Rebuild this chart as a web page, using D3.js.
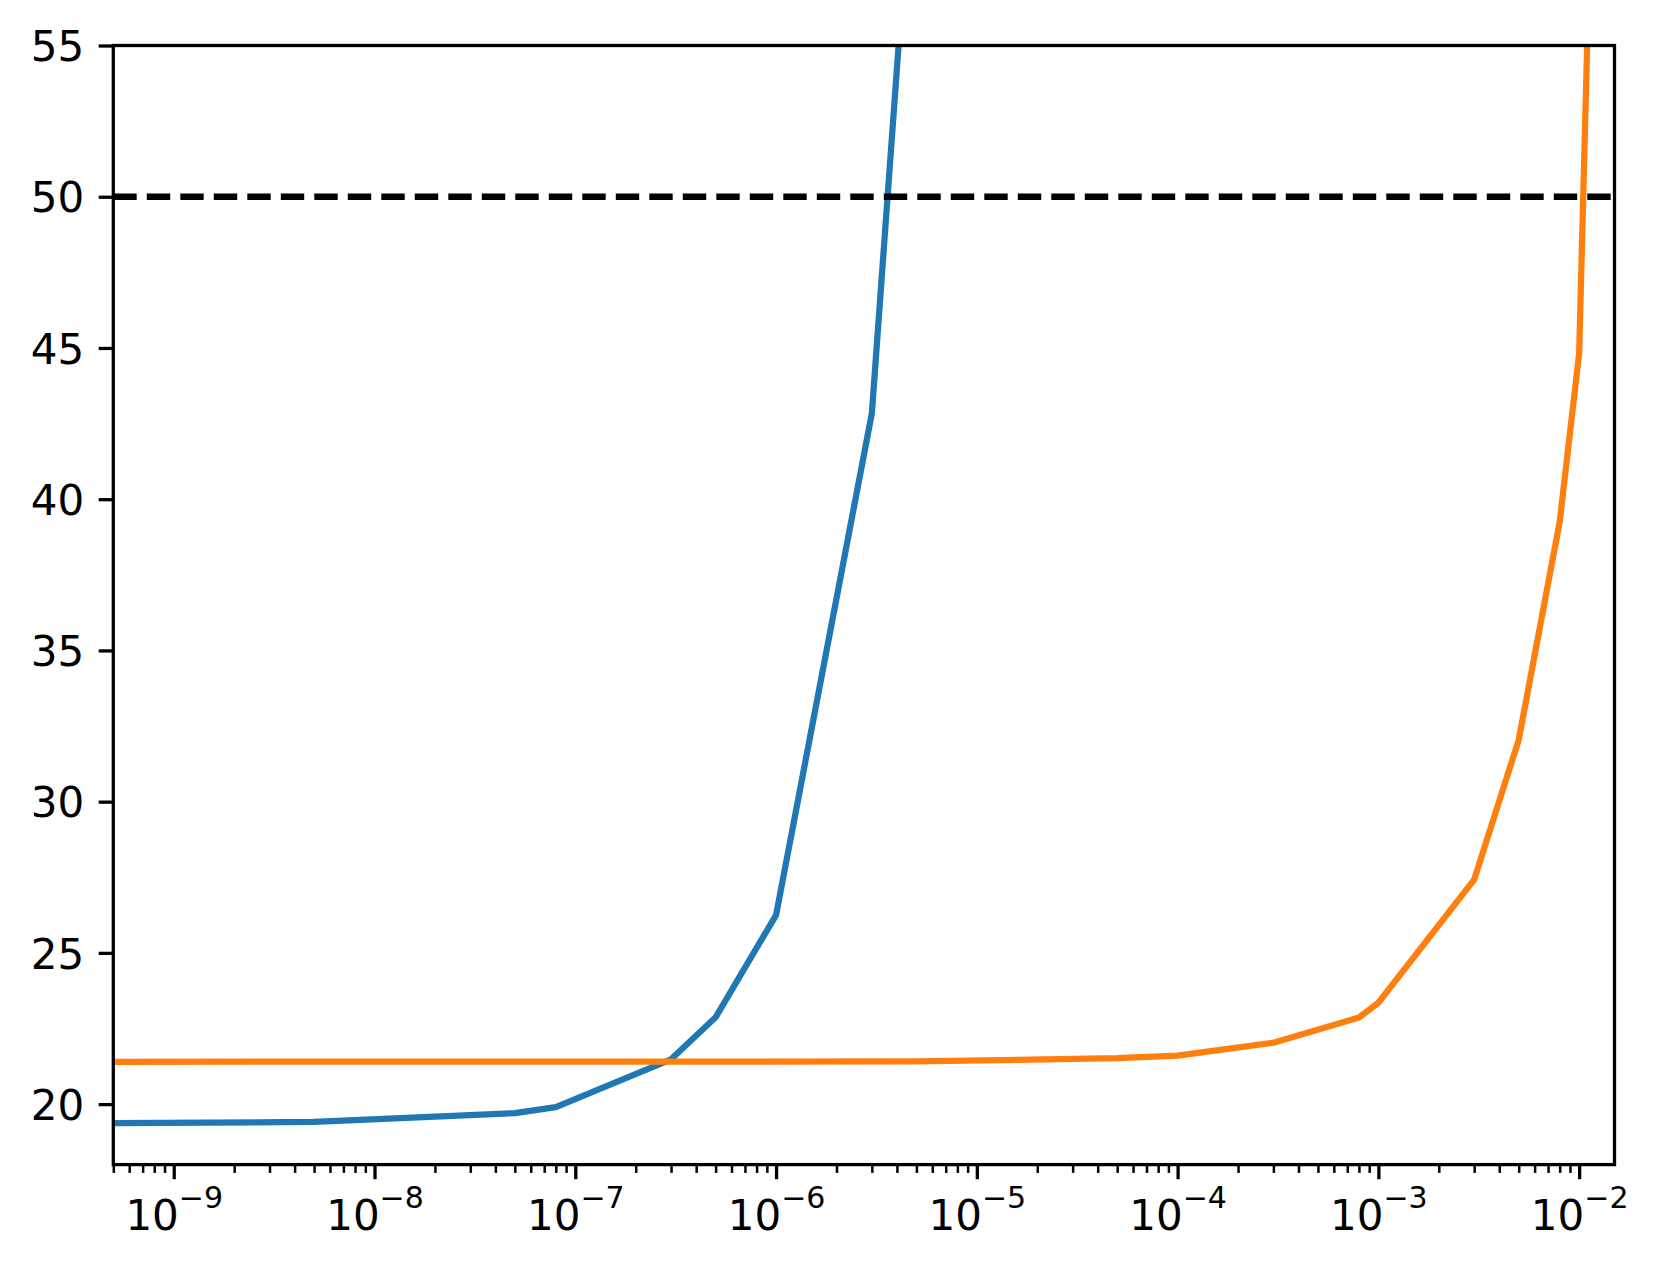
<!DOCTYPE html>
<html>
<head>
<meta charset="utf-8">
<script src="https://cdn.jsdelivr.net/npm/d3@7"></script>
<style>
  html, body { margin: 0; padding: 0; background: #fff; }
  text { font-family: "DejaVu Sans", sans-serif; }
</style>
</head>
<body>
<div class="chart-div"></div>
<script>
// blue curve
var blueX = [5e-10, 5e-9, 5e-8, 8e-8, 3e-7, 5e-7, 1e-6, 3e-6, 5e-6];
var blueY = [19.37, 19.41, 19.70, 19.90, 21.48, 22.87, 26.25, 42.84, 63.1];
// orange curve
var orangeX = [5e-10, 5e-6, 5e-5, 1e-4, 3e-4, 8e-4, 1e-3, 3e-3, 5e-3, 8e-3, 1e-2, 1.2e-2];
var orangeY = [21.40, 21.41, 21.52, 21.60, 22.03, 22.86, 23.35, 27.42, 32.04, 39.25, 44.82, 65.0];
var threshold = 50;
var yTicks = [20, 25, 30, 35, 40, 45, 50, 55];
var xExps = [-9, -8, -7, -6, -5, -4, -3, -2];

var W = 1660, H = 1271;
var margin = {top: 45.5, right: 45.5, bottom: 106.4, left: 113.3},
  width = W - margin.left - margin.right,
  height = H - margin.top - margin.bottom;

var x = d3.scaleLog().domain([5e-10, 1.5e-2]).range([0, width]);
var y = d3.scaleLinear().domain([18, 55]).range([height, 0]);

var svg = d3.select(".chart-div").append("svg")
  .attr("width", W).attr("height", H)
  .append("g").attr("transform", "translate(" + margin.left + "," + margin.top + ")");

svg.append("clipPath").attr("id", "clip")
  .append("rect").attr("width", width).attr("height", height);

var plot = svg.append("g").attr("clip-path", "url(#clip)");

var line = d3.line().x(function(d) { return x(d[0]); }).y(function(d) { return y(d[1]); });

plot.append("path")
  .datum(blueX.map(function(v, i) { return [v, blueY[i]]; }))
  .attr("d", line).attr("fill", "none").attr("stroke", "#1f77b4")
  .attr("stroke-width", 6.25).attr("stroke-linejoin", "round");

plot.append("path")
  .datum(orangeX.map(function(v, i) { return [v, orangeY[i]]; }))
  .attr("d", line).attr("fill", "none").attr("stroke", "#ff7f0e")
  .attr("stroke-width", 6.25).attr("stroke-linejoin", "round");

plot.append("line")
  .attr("x1", 0).attr("x2", width)
  .attr("y1", y(threshold)).attr("y2", y(threshold))
  .attr("stroke", "#000").attr("stroke-width", 6.3)
  .attr("stroke-dasharray", "23.4,10.1");

// minor ticks on the log axis
var minor = [];
for (var e = -10; e <= -2; e++) {
  for (var m = 2; m <= 9; m++) {
    var v = m * Math.pow(10, e);
    if (v >= x.domain()[0] && v <= x.domain()[1]) minor.push(v);
  }
}
svg.append("g").attr("transform", "translate(0," + height + ")")
  .call(d3.axisBottom(x).tickValues(minor).tickSize(8.3).tickFormat(""))
  .call(function(g) {
    g.select(".domain").remove();
    g.selectAll("line").attr("stroke-width", 2.5);
  });

var xAxis = svg.append("g").attr("transform", "translate(0," + height + ")")
  .call(d3.axisBottom(x).tickValues(xExps.map(function(p) { return Math.pow(10, p); }))
    .tickSize(14.6).tickFormat(""));
xAxis.select(".domain").remove();
xAxis.selectAll("line").attr("stroke-width", 3.3);
xAxis.selectAll(".tick").each(function(d, i) {
  var t = d3.select(this).append("text")
    .attr("fill", "#000").attr("text-anchor", "middle")
    .attr("y", 65.4).style("font-size", "42px");
  t.append("tspan").text("10");
  t.append("tspan").attr("dy", -22).style("font-size", "30px")
    .text("\u2212" + Math.abs(xExps[i]));
});

var yAxis = svg.append("g")
  .call(d3.axisLeft(y).tickValues(yTicks).tickSize(14.6).tickPadding(14.6));
yAxis.select(".domain").remove();
yAxis.selectAll("line").attr("stroke-width", 3.3);
yAxis.selectAll("text").attr("dy", "0.36em").style("font-size", "42px").attr("fill", "#000");

svg.append("rect")
  .attr("width", width).attr("height", height)
  .attr("fill", "none").attr("stroke", "#000").attr("stroke-width", 3.3);
</script>
</body>
</html>
